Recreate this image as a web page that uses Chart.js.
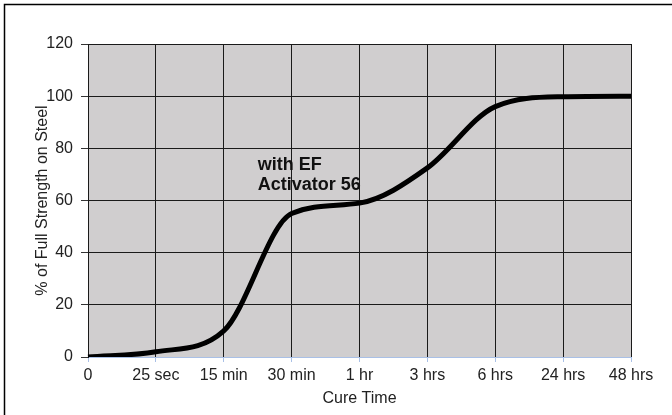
<!DOCTYPE html>
<html>
<head>
<meta charset="utf-8">
<script src="https://cdn.jsdelivr.net/npm/chart.js@4.4.0/dist/chart.umd.min.js"></script>
<style>
  html, body { margin: 0; padding: 0; background: #fff; }
  #wrap { position: relative; width: 672px; height: 415px; }
</style>
</head>
<body>
<div id="wrap"><canvas id="cure"></canvas></div>
<script>
// Cure time categories and strength
var cureTimes = ["0", "25 sec", "15 min", "30 min", "1 hr", "3 hrs", "6 hrs", "24 hrs", "48 hrs"];
var strength = [0, 2, 10, 55, 59, 72.5, 96, 99.8, 100];
var yTicks = [0, 20, 40, 60, 80, 100, 120];
var noteLines = ["with EF", "Activator 56"];

var FONT = "'Liberation Sans', Arial, sans-serif";

// gray plot background + outer frame + text note
var decor = {
    id: 'decor',
    beforeDraw: function(chart) {
        var c = chart.ctx, a = chart.chartArea;
        c.save();
        c.fillStyle = '#d0cecf';
        c.fillRect(a.left, a.top, a.right - a.left, a.bottom - a.top);
        c.restore();
    },
    afterDraw: function(chart) {
        var c = chart.ctx;
        var xs = chart.scales.x, ys = chart.scales.y;
        c.save();
        c.strokeStyle = '#000';
        c.lineWidth = 1.5;
        c.beginPath();
        c.moveTo(4.5, 415);
        c.lineTo(4.5, 4.5);
        c.lineTo(672, 4.5);
        c.stroke();

        c.fillStyle = '#111';
        c.font = 'bold 18px ' + FONT;
        c.textAlign = 'left';
        c.textBaseline = 'alphabetic';
        var x = xs.getPixelForValue(2.5);
        c.fillText(noteLines[0], x, ys.getPixelForValue(71.7));
        c.fillText(noteLines[1], x, ys.getPixelForValue(64.1));
        c.restore();
    }
};

var ctx = document.getElementById("cure").getContext("2d");
var chart = new Chart(ctx, {
    type: 'line',
    data: {
        labels: cureTimes,
        datasets: [{
            label: "with EF Activator 56",
            data: strength,
            borderColor: '#000',
            borderWidth: 5,
            pointRadius: 0,
            fill: false,
            cubicInterpolationMode: 'monotone'
        }]
    },
    options: {
        responsive: true,
        maintainAspectRatio: false,
        animation: false,
        layout: { padding: { left: 29, right: 41, top: 44, bottom: 3 } },
        plugins: {
            legend: { display: false },
            tooltip: { enabled: false }
        },
        scales: {
            x: {
                offset: false,
                grid: { color: '#1a1a1a', tickColor: '#a9c0e6', tickLength: 5, lineWidth: 1 },
                border: { color: '#a9c0e6', width: 1 },
                ticks: { color: '#222', font: { family: FONT, size: 16 }, padding: 4, maxRotation: 0, autoSkip: false },
                title: { display: true, text: 'Cure Time', color: '#222', font: { family: FONT, size: 16 }, padding: 4 },
                afterFit: function(s) { s.height = 55; }
            },
            y: {
                min: 0,
                max: 120,
                afterBuildTicks: function(s) { s.ticks = yTicks.map(function(v) { return { value: v }; }); },
                grid: { color: '#1a1a1a', tickColor: '#333', tickLength: 7, lineWidth: 1 },
                border: { color: '#1a1a1a', width: 1 },
                ticks: { color: '#222', font: { family: FONT, size: 16 }, padding: 8 },
                title: { display: true, text: '% of Full Strength on Steel', color: '#222', font: { family: FONT, size: 16 }, padding: 4 },
                afterFit: function(s) { s.width = 59; }
            }
        }
    },
    plugins: [decor]
});
</script>
</body>
</html>
